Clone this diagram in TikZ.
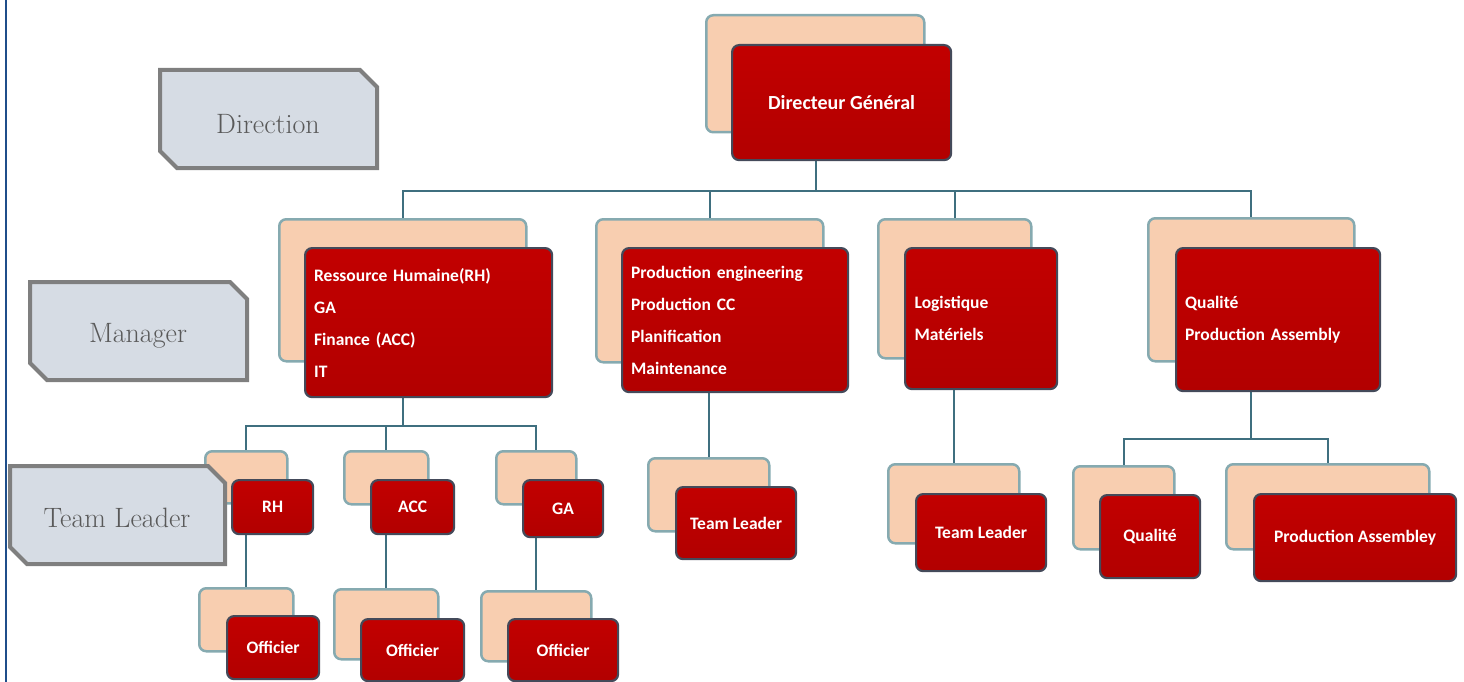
\documentclass[tikz,border=0pt]{standalone}
\usepackage{fontspec}
\newfontfamily\carlito{Carlito}
\usetikzlibrary{backgrounds}
\definecolor{cPeach}{HTML}{F8CEB0}
\definecolor{cTeal}{HTML}{86AAB0}
\definecolor{cEdge}{HTML}{444A5A}
\definecolor{cRedT}{HTML}{C20000}
\definecolor{cRedM}{HTML}{A40000}
\definecolor{cRedB}{HTML}{B20000}
\definecolor{cConn}{HTML}{3F6F7F}
\definecolor{cLblFill}{HTML}{D6DCE4}
\definecolor{cLblDraw}{HTML}{7F7F7F}
\definecolor{cLblText}{HTML}{595959}
\definecolor{cBlue}{HTML}{1F4E8A}
\begin{document}
\begin{tikzpicture}[x=1pt,y=-1pt,
  wh/.style 2 args={minimum width=#1pt, minimum height=#2pt},
  bk/.style={anchor=north west, draw=cTeal, line width=2.5pt, fill=cPeach, rounded corners=7pt, inner sep=0pt},
  fr/.style={anchor=north west, draw=cEdge, line width=2.2pt, top color=cRedT, middle color=cRedM, bottom color=cRedB, rounded corners=7pt, text=white, inner sep=0pt, font=\carlito\bfseries\fontsize{17.5}{21}\selectfont},
  mg/.style={align=left, inner xsep=9pt, font=\carlito\bfseries\fontsize{17.5}{32}\selectfont},
  conn/.style={draw=cConn, line width=1.8pt},
  lbl/.style={draw=cLblDraw, line width=4pt, fill=cLblFill},
  lbltext/.style={text=cLblText, font=\fontsize{28}{32}\selectfont}]
\useasboundingbox (0,0) rectangle (1464,682);
\draw[draw=cBlue, line width=2.5pt] (6,0) coordinate (bl1) -- (6,682) coordinate (bl2);

% back boxes
\node[bk, wh={218}{117}] (dgB) at (705,14) {};
\node[bk, wh={247}{142}] (rhB) at (278,218) {};
\node[bk, wh={227}{143}] (prB) at (595,218) {};
\node[bk, wh={153}{139}] (lgB) at (877,218) {};
\node[bk, wh={206}{143}] (qmB) at (1147,217) {};
\node[bk, wh={82}{52}] (rhtB) at (204,450) {};
\node[bk, wh={84}{53}] (accB) at (343,450) {};
\node[bk, wh={80}{53}] (gaB) at (495,450) {};
\node[bk, wh={94}{63}] (o1B) at (198,587) {};
\node[bk, wh={104}{70}] (o2B) at (333,588) {};
\node[bk, wh={110}{70}] (o3B) at (480,590) {};
\node[bk, wh={121}{73}] (tlpB) at (647,457) {};
\node[bk, wh={131}{79}] (tllB) at (887,463) {};
\node[bk, wh={101}{83}] (qtB) at (1072,465) {};
\node[bk, wh={203}{85}] (paB) at (1225,463) {};

% front boxes
\node[fr, wh={219}{115}, font=\carlito\bfseries\fontsize{20}{24}\selectfont] (dgF) at (731,44) {Directeur Général};
\node[fr, mg, text width=229pt, wh={247}{149}] (rhF) at (304,247) {Ressource Humaine(RH)\\GA\\Finance (ACC)\\IT};
\node[fr, mg, text width=208pt, wh={226}{144}] (prF) at (621,247) {Production engineering\\Production CC\\Planification\\Maintenance};
\node[fr, mg, text width=133pt, wh={152}{141}] (lgF) at (904,247) {Logistique\\Matériels};
\node[fr, mg, text width=186pt, wh={204}{143}] (qmF) at (1175,247) {Qualité\\Production Assembly};
\node[fr, wh={81}{54}] (rhtF) at (231,479) {RH};
\node[fr, wh={83}{54}] (accF) at (370,479) {ACC};
\node[fr, wh={80}{57}] (gaF) at (522,479) {GA};
\node[fr, wh={92}{63}] (o1F) at (226,615) {Officier};
\node[fr, wh={103}{62}] (o2F) at (360,618) {Officier};
\node[fr, wh={110}{62}] (o3F) at (507,618) {Officier};
\node[fr, wh={120}{72}] (tlpF) at (675,486) {Team Leader};
\node[fr, wh={130}{77}] (tllF) at (915,493) {Team Leader};
\node[fr, wh={100}{83}] (qtF) at (1099,494) {Qualité};
\node[fr, wh={202}{87}] (paF) at (1253,493) {Production Assembley};

% connectors
\begin{scope}[on background layer]
\draw[conn] ([xshift=-25.5pt]dgF.south) -- ++(0,30) coordinate (bus);
\draw[conn] (rhB.north) |- (bus) -| (qmB.north);
\draw[conn] (prB.north) -- (prB.north |- bus);
\draw[conn] (lgB.north) -- (lgB.north |- bus);
\draw[conn] (rhB.center |- rhF.south) -- ++(0,28) coordinate (rhbus);
\draw[conn] (rhtB.north) |- (rhbus) -| (gaB.north);
\draw[conn] (accB.north) -- (accB.north |- rhbus);
\draw[conn] (o1B.north) -- (o1B.north |- rhtF.south);
\draw[conn] (o2B.north) -- (o2B.north |- accF.south);
\draw[conn] (o3B.north) -- (o3B.north |- gaF.south);
\draw[conn] (tlpB.north) -- (tlpB.north |- prF.south);
\draw[conn] (tllB.north) -- (tllB.north |- lgF.south);
\draw[conn] (qmB.center |- qmF.south) -- ++(0,47) coordinate (qbus);
\draw[conn] (qtB.north) |- (qbus) -| (paB.north);
\end{scope}

% level labels
\path[lbl] (160,70) -- (360,70) -- (377,87) -- (377,168) -- (177,168) -- (160,151) -- cycle;
\node[lbltext] (tDir) at (268,124) {Direction};
\path[lbl] (30,282) -- (230,282) -- (247,299) -- (247,380) -- (47,380) -- (30,363) -- cycle;
\node[lbltext] (tMan) at (138,336) {Manager};
\path[lbl] (10,466) -- (208,466) -- (225,483) -- (225,564) -- (27,564) -- (10,547) -- cycle;
\node[lbltext] (tTL) at (117,518) {Team Leader};
\end{tikzpicture}
\end{document}
